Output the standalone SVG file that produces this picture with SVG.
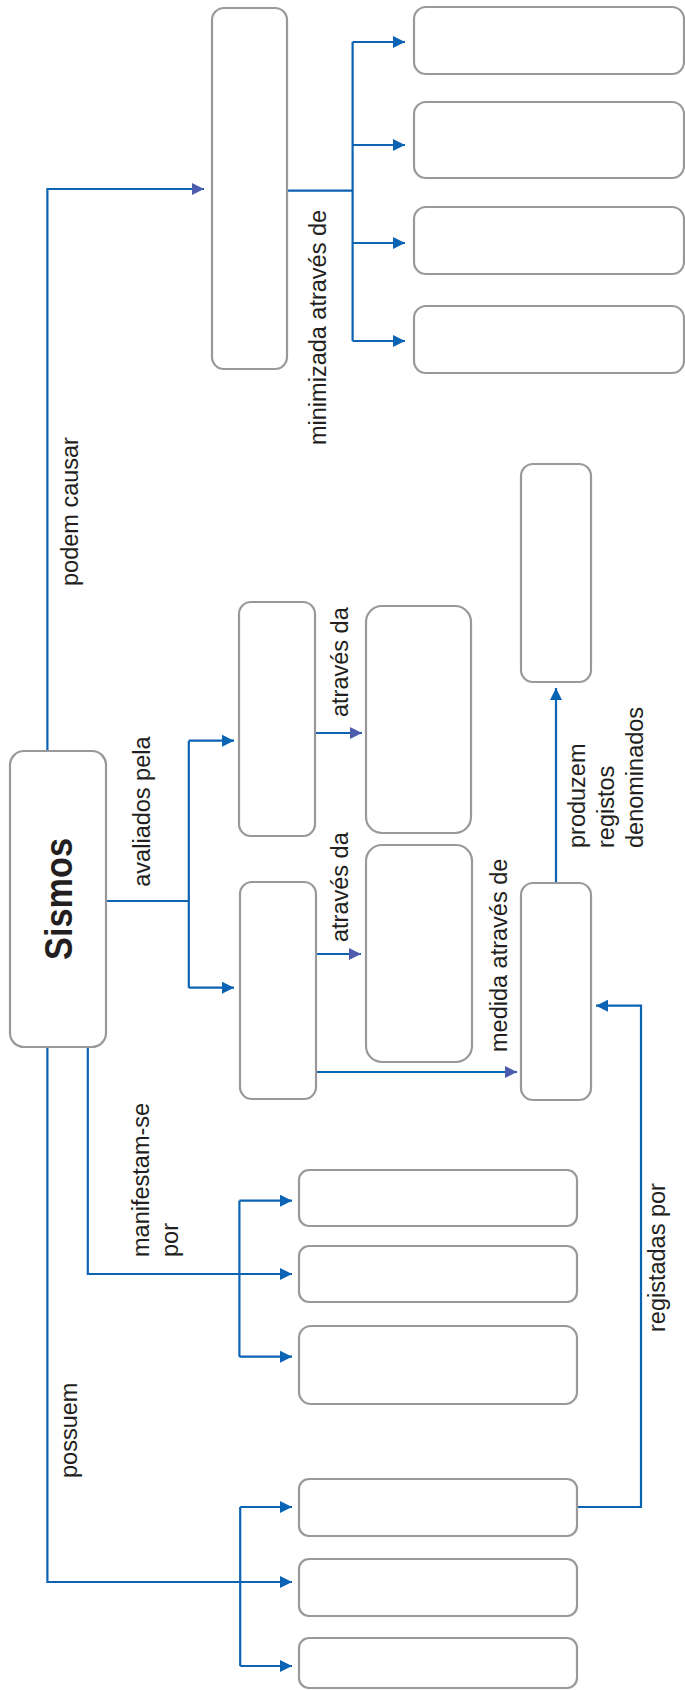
<svg xmlns="http://www.w3.org/2000/svg" width="685" height="1690" viewBox="0 0 685 1690">
<style>
.box{fill:#fff;stroke:#9b9899;stroke-width:2.2}
.ln{fill:none;stroke:#0a63b3;stroke-width:2.2}
.ab{marker-end:url(#ah)}
.ap{marker-end:url(#ahp)}
.lb{font-family:"Liberation Sans",Arial,sans-serif;font-size:23.5px;fill:#231f20}
.title{font-family:"Liberation Sans",Arial,sans-serif;font-size:38px;font-weight:bold;fill:#231f20}
</style>
<defs>
<marker id="ah" markerUnits="userSpaceOnUse" markerWidth="13" markerHeight="13" refX="12" refY="6" orient="auto"><path d="M0,0 L12,6 L0,12 z" fill="#0a63b3"/></marker>
<marker id="ahp" markerUnits="userSpaceOnUse" markerWidth="13" markerHeight="13" refX="12" refY="6" orient="auto"><path d="M0,0 L12,6 L0,12 z" fill="#4d5cad"/></marker>
</defs>
<rect width="685" height="1690" fill="#fff"/>
<g id="connectors">
<path class="ln ap" d="M47.4,751 V189 H204"/>
<path class="ln" d="M287,190.7 H352.6 M352.6,42 V341"/>
<path class="ln ab" d="M352.6,42 H405"/>
<path class="ln ab" d="M352.6,145 H405"/>
<path class="ln ab" d="M352.6,243 H405"/>
<path class="ln ab" d="M352.6,341 H405"/>
<path class="ln" d="M106,901 H188.8 M188.8,740.7 V987.7"/>
<path class="ln ab" d="M188.8,740.7 H234"/>
<path class="ln ab" d="M188.8,987.7 H234"/>
<path class="ln ap" d="M315,733 H362"/>
<path class="ln ap" d="M316,954 H361"/>
<path class="ln ap" d="M316,1072 H517"/>
<path class="ln ab" d="M556,883 V688"/>
<path class="ln ab" d="M577,1507 H641 V1005.7 H596"/>
<path class="ln ab" d="M87.8,1047 V1274 H292"/>
<path class="ln" d="M239.4,1200.7 V1356.7"/>
<path class="ln ab" d="M239.4,1200.7 H292"/>
<path class="ln ab" d="M239.4,1356.7 H292"/>
<path class="ln ab" d="M47.4,1047 V1582 H292"/>
<path class="ln" d="M240.2,1507 V1666"/>
<path class="ln ab" d="M240.2,1507 H292"/>
<path class="ln ab" d="M240.2,1666 H292"/>
</g>
<g id="labels">
<text class="lb" transform="translate(78,586) rotate(-90)">podem causar</text>
<text class="lb" transform="translate(326,445) rotate(-90)">minimizada através de</text>
<text class="lb" transform="translate(149.5,886.7) rotate(-90)">avaliados pela</text>
<text class="lb" transform="translate(348,717) rotate(-90)">através da</text>
<text class="lb" transform="translate(348,942) rotate(-90)">através da</text>
<text class="lb" transform="translate(507,1052) rotate(-90)">medida através de</text>
<text class="lb" transform="translate(585,848) rotate(-90)">produzem</text>
<text class="lb" transform="translate(614,848) rotate(-90)">registos</text>
<text class="lb" transform="translate(643,848) rotate(-90)">denominados</text>
<text class="lb" transform="translate(665,1332) rotate(-90)">registadas por</text>
<text class="lb" transform="translate(149,1257) rotate(-90)">manifestam-se</text>
<text class="lb" transform="translate(178,1257) rotate(-90)">por</text>
<text class="lb" transform="translate(77,1478) rotate(-90)">possuem</text>
</g>
<g id="sismos"><rect class="box" x="10" y="751" width="96" height="296" rx="14"/><text class="title" transform="translate(72,899) rotate(-90)" text-anchor="middle" textLength="122" lengthAdjust="spacingAndGlyphs">Sismos</text></g>
<g id="efeitos"><rect class="box" x="212" y="8" width="75" height="361" rx="12"/></g>
<g id="min1"><rect class="box" x="414" y="7" width="270" height="67" rx="12"/></g>
<g id="min2"><rect class="box" x="414" y="102" width="270" height="76" rx="12"/></g>
<g id="min3"><rect class="box" x="414" y="207" width="270" height="67" rx="12"/></g>
<g id="min4"><rect class="box" x="414" y="306" width="270" height="67" rx="12"/></g>
<g id="aval1"><rect class="box" x="239" y="602" width="76" height="234" rx="12"/></g>
<g id="aval2"><rect class="box" x="240" y="882" width="76" height="217" rx="12"/></g>
<g id="via1"><rect class="box" x="366" y="606" width="105" height="227" rx="16"/></g>
<g id="via2"><rect class="box" x="366" y="845" width="106" height="217" rx="16"/></g>
<g id="registos"><rect class="box" x="521" y="464" width="70" height="218" rx="12"/></g>
<g id="medida"><rect class="box" x="521" y="883" width="70" height="217" rx="12"/></g>
<g id="man1"><rect class="box" x="299" y="1170" width="278" height="56" rx="10"/></g>
<g id="man2"><rect class="box" x="299" y="1246" width="278" height="56" rx="10"/></g>
<g id="man3"><rect class="box" x="299" y="1326" width="278" height="78" rx="12"/></g>
<g id="pos1"><rect class="box" x="299" y="1479" width="278" height="57" rx="10"/></g>
<g id="pos2"><rect class="box" x="299" y="1559" width="278" height="57" rx="10"/></g>
<g id="pos3"><rect class="box" x="299" y="1638" width="278" height="50" rx="10"/></g>
</svg>
